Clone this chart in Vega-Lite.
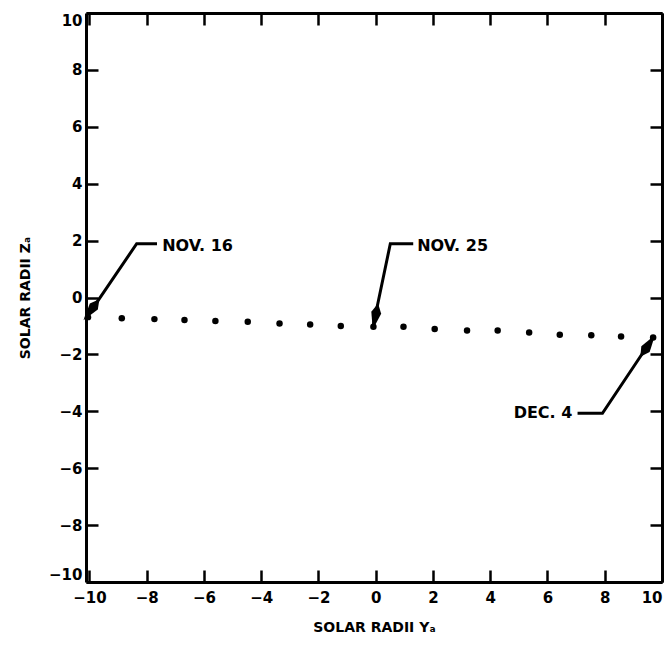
{
  "$schema": "https://vega.github.io/schema/vega-lite/v6.json",
  "width": 576,
  "height": 569,
  "autosize": {"type": "none"},
  "padding": {"left": 86, "top": 13, "right": 3, "bottom": 63},
  "background": "white",
  "config": {
    "view": {"stroke": null},
    "axis": {
      "grid": false,
      "labelFont": "DejaVu Sans",
      "labelFontWeight": "bold",
      "labelFontSize": 15,
      "labelColor": "black",
      "titleFont": "DejaVu Sans",
      "titleFontWeight": "bold",
      "titleFontSize": 14,
      "titleColor": "black",
      "domainColor": "black",
      "domainWidth": 3,
      "tickColor": "black",
      "tickWidth": 2.5,
      "tickSize": -12,
      "labelFlush": true
    }
  },
  "datasets": {
    "orbit": [
      {"ya": -10.05, "za": -0.69, "day": "Nov 16"},
      {"ya": -8.87, "za": -0.73, "day": "Nov 17"},
      {"ya": -7.73, "za": -0.76, "day": "Nov 18"},
      {"ya": -6.68, "za": -0.79, "day": "Nov 19"},
      {"ya": -5.60, "za": -0.83, "day": "Nov 20"},
      {"ya": -4.47, "za": -0.85, "day": "Nov 21"},
      {"ya": -3.36, "za": -0.91, "day": "Nov 22"},
      {"ya": -2.29, "za": -0.95, "day": "Nov 23"},
      {"ya": -1.22, "za": -1.00, "day": "Nov 24"},
      {"ya": -0.08, "za": -1.03, "day": "Nov 25"},
      {"ya": 0.97, "za": -1.03, "day": "Nov 26"},
      {"ya": 2.06, "za": -1.11, "day": "Nov 27"},
      {"ya": 3.19, "za": -1.16, "day": "Nov 28"},
      {"ya": 4.26, "za": -1.16, "day": "Nov 29"},
      {"ya": 5.36, "za": -1.23, "day": "Nov 30"},
      {"ya": 6.43, "za": -1.31, "day": "Dec 1"},
      {"ya": 7.53, "za": -1.33, "day": "Dec 2"},
      {"ya": 8.57, "za": -1.37, "day": "Dec 3"},
      {"ya": 9.69, "za": -1.41, "day": "Dec 4"}
    ],
    "leaders": [
      {"label": "NOV. 16", "ord": 1, "ya": -7.64, "za": 1.89},
      {"label": "NOV. 16", "ord": 2, "ya": -8.35, "za": 1.89},
      {"label": "NOV. 16", "ord": 3, "ya": -9.70, "za": -0.11},
      {"label": "NOV. 16", "ord": 4, "ya": -10.10, "za": -0.68},
      {"label": "NOV. 25", "ord": 1, "ya": 1.31, "za": 1.89},
      {"label": "NOV. 25", "ord": 2, "ya": 0.51, "za": 1.89},
      {"label": "NOV. 25", "ord": 3, "ya": -0.09, "za": -1.00},
      {"label": "DEC. 4", "ord": 1, "ya": 7.05, "za": -4.07},
      {"label": "DEC. 4", "ord": 2, "ya": 7.92, "za": -4.07},
      {"label": "DEC. 4", "ord": 3, "ya": 9.66, "za": -1.45}
    ],
    "heads": [
      {"label": "NOV. 16", "ya": -9.93, "za": -0.43},
      {"label": "NOV. 25", "ya": -0.01, "za": -0.67},
      {"label": "DEC. 4", "ya": 9.50, "za": -1.70}
    ],
    "labels": [
      {"label": "NOV. 16", "ya": -7.46, "za": 1.8},
      {"label": "NOV. 25", "ya": 1.45, "za": 1.8},
      {"label": "DEC. 4", "ya": 6.87, "za": -4.07}
    ]
  },
  "resolve": {"axis": {"x": "independent", "y": "independent"}},
  "layer": [
    {
      "data": {"name": "orbit"},
      "mark": {"type": "point", "filled": true, "color": "black", "size": 42, "opacity": 1},
      "encoding": {
        "x": {"field": "ya", "type": "quantitative",
          "scale": {"domain": [-10.12, 10], "nice": false, "zero": false},
          "axis": {"orient": "bottom", "values": [-10, -8, -6, -4, -2, 0, 2, 4, 6, 8, 10],
            "title": "SOLAR RADII Yₐ", "labelPadding": 20, "titleX": 288, "titleY": 45,
            "titleBaseline": "middle", "titleAlign": "center"}},
        "y": {"field": "za", "type": "quantitative",
          "scale": {"domain": [-10, 10], "nice": false, "zero": false},
          "axis": {"orient": "left", "values": [-10, -8, -6, -4, -2, 0, 2, 4, 6, 8, 10],
            "title": "SOLAR RADII Zₐ", "labelPadding": 16, "titleX": -61, "titleY": 284.5,
            "titleAngle": 270, "titleBaseline": "middle", "titleAlign": "center"}}
      }
    },
    {
      "data": {"name": "leaders"},
      "mark": {"type": "line", "color": "black", "strokeWidth": 3},
      "encoding": {
        "x": {"field": "ya", "type": "quantitative",
          "scale": {"domain": [-10.12, 10], "nice": false, "zero": false},
          "axis": {"orient": "top", "values": [-10, -8, -6, -4, -2, 0, 2, 4, 6, 8, 10], "labels": false, "title": null}},
        "y": {"field": "za", "type": "quantitative",
          "scale": {"domain": [-10, 10], "nice": false, "zero": false},
          "axis": {"orient": "right", "values": [-10, -8, -6, -4, -2, 0, 2, 4, 6, 8, 10], "labels": false, "title": null}},
        "detail": {"field": "label"},
        "order": {"field": "ord", "type": "quantitative"}
      }
    },
    {
      "data": {"name": "heads"},
      "transform": [{"filter": "datum.label == 'NOV. 16'"}],
      "mark": {"type": "point", "shape": "M0,-1L0.38,0.3L0,1L-0.38,0.3Z", "filled": true, "color": "black", "size": 700, "opacity": 1, "angle": 217},
      "encoding": {
        "x": {"field": "ya", "type": "quantitative", "axis": null},
        "y": {"field": "za", "type": "quantitative", "axis": null}
      }
    },
    {
      "data": {"name": "heads"},
      "transform": [{"filter": "datum.label == 'NOV. 25'"}],
      "mark": {"type": "point", "shape": "M0,-1L0.38,0.3L0,1L-0.38,0.3Z", "filled": true, "color": "black", "size": 700, "opacity": 1, "angle": 191.6},
      "encoding": {
        "x": {"field": "ya", "type": "quantitative", "axis": null},
        "y": {"field": "za", "type": "quantitative", "axis": null}
      }
    },
    {
      "data": {"name": "heads"},
      "transform": [{"filter": "datum.label == 'DEC. 4'"}],
      "mark": {"type": "point", "shape": "M0,-1L0.38,0.3L0,1L-0.38,0.3Z", "filled": true, "color": "black", "size": 700, "opacity": 1, "angle": 33.9},
      "encoding": {
        "x": {"field": "ya", "type": "quantitative", "axis": null},
        "y": {"field": "za", "type": "quantitative", "axis": null}
      }
    },
    {
      "data": {"name": "labels"},
      "transform": [{"filter": "datum.label != 'DEC. 4'"}],
      "mark": {"type": "text", "align": "left", "baseline": "middle", "font": "DejaVu Sans", "fontWeight": "bold", "fontSize": 16, "color": "black"},
      "encoding": {
        "x": {"field": "ya", "type": "quantitative", "axis": null},
        "y": {"field": "za", "type": "quantitative", "axis": null},
        "text": {"field": "label"}
      }
    },
    {
      "data": {"name": "labels"},
      "transform": [{"filter": "datum.label == 'DEC. 4'"}],
      "mark": {"type": "text", "align": "right", "baseline": "middle", "font": "DejaVu Sans", "fontWeight": "bold", "fontSize": 16, "color": "black"},
      "encoding": {
        "x": {"field": "ya", "type": "quantitative", "axis": null},
        "y": {"field": "za", "type": "quantitative", "axis": null},
        "text": {"field": "label"}
      }
    }
  ]
}
